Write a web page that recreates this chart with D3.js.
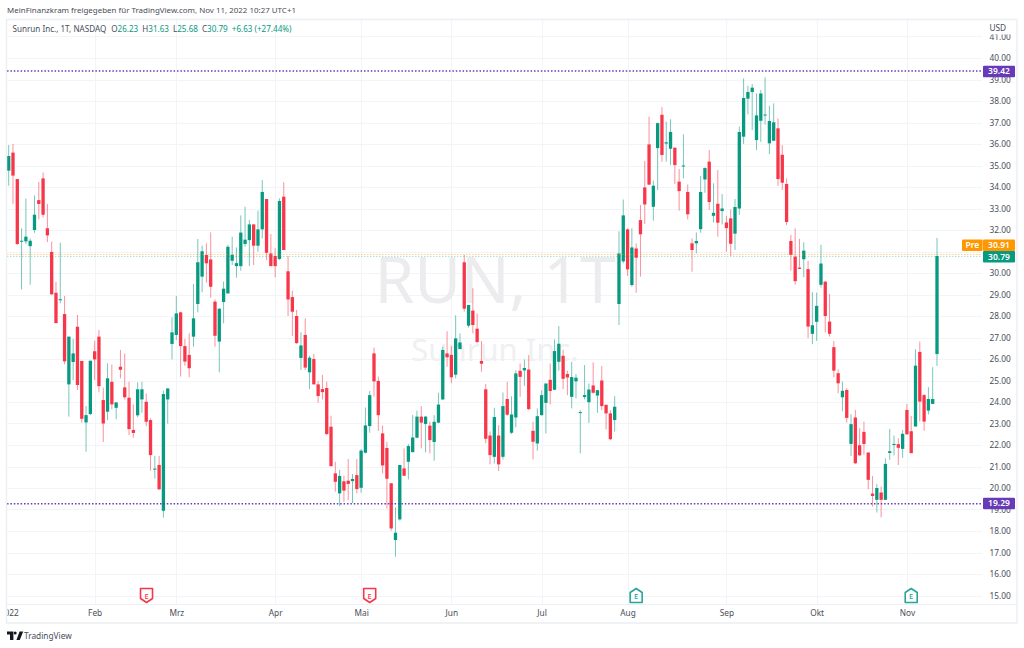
<!DOCTYPE html>
<html><head><meta charset="utf-8">
<script src="https://d3js.org/d3.v7.min.js"></script>
<style>html,body{margin:0;padding:0;background:#fff}svg{display:block}text{font-family:"Noto Sans",sans-serif}</style>
</head><body><svg id="c" width="1024" height="648"></svg>
<script>
const opens=[34.76,35.60,34.37,31.47,31.47,31.25,32.0,33.39,34.4,32.08,
30.98,29.08,28.74,28.09,24.82,25.86,27.5,25.91,23.05,23.44,
26.36,27.04,24.09,23.55,24.94,23.73,25.64,24.68,24.2,22.7,
23.38,24.12,24.01,23.16,20.87,21.07,18.94,24.12,26.7,27.12,
28.17,26.6,26.19,27.04,28.56,29.83,30.84,30.63,28.67,26.81,
28.65,29.05,30.57,30.32,30.32,31.35,31.53,32.26,31.27,32.03,
33.44,30.91,30.79,30.65,33.55,30.08,28.88,28.0,26.05,27.12,
25.38,26.0,24.82,24.6,24.65,22.85,20.68,19.75,20.31,20.34,
20.32,20.6,20.01,21.64,22.88,26.26,24.98,22.54,21.86,20.22,
17.58,18.54,20.91,21.22,21.67,22.34,23.32,22.98,22.9,22.14,
23.04,24.12,26.26,26.19,25.27,26.46,30.5,27.55,28.25,27.41,
25.91,24.59,22.44,21.45,22.44,21.45,24.14,22.57,23.28,25.45,
25.47,25.51,22.66,22.07,23.39,23.96,25.03,24.57,25.87,26.15,
25.3,24.24,24.96,23.5,24.23,23.99,24.77,24.3,25.0,23.87,
23.47,23.16,28.56,30.54,32.03,29.44,31.14,32.46,33.98,35.98,
33.08,35.81,37.36,36.02,35.78,35.83,34.25,34.96,33.77,31.38,
31.38,32.04,34.35,35.18,32.66,33.22,32.88,32.35,32.54,31.83,
33.0,36.34,38.11,38.42,36.18,37.08,37.33,36.03,36.15,36.73,
35.5,34.14,31.49,30.76,30.25,30.64,30.18,27.17,27.73,29.45,
29.6,27.74,26.55,25.34,24.22,24.56,22.05,23.28,21.99,22.61,
21.65,19.74,19.45,19.79,19.45,21.63,22.0,22.04,21.82,23.63,
22.64,22.86,26.33,24.32,23.6,23.91,26.23];
const highs=[35.95,36.0,34.37,32.08,33.47,31.61,33.61,34.23,34.68,33.21,
31.46,29.58,31.41,28.93,27.04,26.94,28.05,25.91,23.81,25.92,
26.85,27.35,24.67,25.8,25.75,23.98,26.42,26.26,24.94,23.89,
24.91,24.94,24.4,23.24,21.5,21.49,24.53,24.63,27.94,28.93,
28.2,26.93,27.19,29.49,31.58,31.27,31.38,31.89,28.77,28.36,
29.6,31.3,31.69,31.19,32.68,33.08,32.46,32.26,32.9,34.32,
33.44,31.81,31.15,33.47,34.22,30.79,29.18,28.28,27.24,27.89,
26.15,26.23,24.98,25.26,24.95,23.36,21.22,20.84,20.56,21.35,
20.65,21.35,21.8,23.74,24.51,26.53,25.18,22.9,22.15,20.22,
19.1,21.07,21.84,22.05,23.39,23.6,23.81,23.35,23.08,23.39,
24.43,26.57,27.29,26.6,28.03,27.19,30.84,28.51,29.29,28.12,
26.84,24.84,22.63,23.73,22.93,24.44,24.94,24.27,25.48,25.79,
25.98,26.18,23.08,23.7,24.55,24.86,25.79,26.91,27.53,26.44,
25.45,25.87,25.3,23.62,25.72,24.86,25.84,24.55,25.67,23.87,
23.62,24.27,31.94,33.42,32.08,32.08,31.38,33.16,35.21,37.27,
34.29,37.0,37.72,37.04,37.15,35.83,34.84,36.45,34.12,31.61,
31.89,34.51,34.91,35.72,34.17,34.79,33.67,32.66,32.96,33.44,
36.8,39.05,38.7,38.79,38.35,38.51,39.1,37.78,37.89,37.19,
35.95,34.4,31.77,32.08,31.59,31.43,30.56,29.11,29.09,31.31,
29.6,29.03,26.84,25.52,24.95,24.64,23.43,23.63,22.78,23.09,
21.65,20.56,20.18,20.07,21.38,22.75,22.44,22.31,22.7,23.91,
23.35,26.45,26.81,24.38,24.69,25.62,31.63];
const lows=[34.06,33.21,31.3,29.24,31.35,29.46,31.87,32.5,32.59,31.44,
28.97,27.66,28.59,25.75,23.32,25.02,24.56,23.04,21.69,23.39,
25.02,24.45,22.14,23.16,23.66,23.19,25.1,24.12,22.46,22.34,
23.29,23.5,22.88,20.8,20.43,19.91,18.62,23.0,25.98,26.88,
25.18,25.69,25.15,26.57,28.17,29.1,29.55,28.85,26.57,25.38,
27.66,29.05,30.37,29.78,30.11,31.22,30.32,30.37,30.99,31.61,
30.6,30.32,29.8,30.6,31.07,28.0,27.07,26.7,25.49,25.49,
24.6,24.82,23.97,24.12,22.46,20.99,19.83,19.16,19.36,19.44,
19.3,19.75,19.78,21.61,22.57,24.25,22.65,20.68,19.05,18.01,
16.81,18.48,20.57,20.4,21.64,22.31,21.84,21.66,21.61,21.27,
23.01,24.09,25.64,24.87,25.1,26.46,28.2,27.46,27.19,26.73,
25.41,22.08,21.1,21.14,20.79,21.33,23.36,22.51,22.82,24.24,
24.75,23.62,21.33,21.73,23.36,22.54,23.89,24.55,25.45,24.6,
24.32,23.7,24.17,21.61,24.12,23.03,24.4,23.5,23.62,22.72,
22.23,22.62,27.58,30.45,29.86,29.36,29.08,29.83,32.28,34.09,
32.43,33.86,35.18,35.18,35.02,34.14,32.9,34.4,32.49,30.06,
30.91,31.87,33.73,32.93,32.35,31.69,32.26,30.99,30.79,31.07,
32.7,36.0,37.38,36.65,35.72,36.1,36.9,35.53,36.15,34.06,
33.86,32.23,30.11,29.45,30.18,29.8,26.97,26.69,26.84,29.32,
27.23,27.04,25.15,24.41,23.57,23.04,21.49,21.11,21.49,21.54,
19.94,19.14,18.86,18.64,19.45,21.31,21.52,21.07,21.4,22.47,
21.62,22.86,23.09,22.66,23.42,23.91,25.68];
const closes=[35.44,34.53,31.35,31.5,31.69,31.5,32.71,33.21,32.71,31.75,
29.01,27.67,28.78,25.89,27.04,26.26,24.79,23.22,23.39,25.92,
25.98,24.74,23.0,25.1,23.89,23.98,25.5,24.22,22.74,22.56,
24.59,24.59,23.08,21.53,20.9,19.94,24.37,24.63,27.24,28.12,
26.6,25.88,25.57,27.89,30.5,31.01,30.45,29.36,27.08,28.34,
29.27,31.22,30.85,30.46,31.88,31.55,32.26,31.27,32.03,33.77,
30.94,30.32,30.32,33.35,31.07,28.77,28.2,26.74,26.63,25.6,
26.06,24.82,24.28,24.46,22.51,21.02,20.29,20.56,19.88,20.19,
20.42,19.95,21.74,22.91,24.32,24.96,23.39,21.05,20.43,18.12,
17.92,21.07,20.57,21.95,22.35,23.32,23.04,23.32,22.23,23.08,
23.88,26.42,26.08,25.15,26.96,26.77,28.34,28.51,27.58,26.79,
25.78,22.29,21.53,23.3,21.1,23.81,23.41,23.42,25.33,25.17,
25.58,23.67,22.15,23.34,24.32,24.86,24.51,26.37,26.71,25.08,
25.14,25.16,25.13,23.53,24.32,24.58,24.43,24.55,23.81,23.47,
22.27,23.78,30.91,32.68,30.17,31.19,30.71,31.8,33.19,34.11,
34.06,36.97,35.49,36.08,36.56,35.02,33.81,35.0,32.73,31.07,
31.49,33.77,34.88,33.3,32.8,32.34,33.0,32.09,31.36,33.07,
36.56,38.14,38.42,38.62,37.33,38.35,37.37,37.07,37.01,34.37,
34.2,32.37,30.84,29.62,30.19,31.04,27.51,27.57,28.47,30.44,
28.0,27.17,25.46,24.87,24.52,23.26,22.97,21.15,21.52,22.05,
20.38,19.63,20.0,19.45,21.12,21.71,22.05,21.87,22.52,22.5,
21.62,25.69,24.02,23.09,24.14,24.14,30.79];
const monthLabels=["2022","Feb","Mrz","Apr","Mai","Jun","Jul","Aug","Sep","Okt","Nov"];
const monthBars=[0,20,39,62,82,103,124,144,167,188,209];
const priceTicks=d3.range(15,42);
const axisLabelPrices=priceTicks.filter(d=>d!==31);
const hLevels=[39.42,19.29];
const hLabels=["39.42","19.29"];
const earningsBars=[32,84,146,210];
const earningsBeat=[false,false,true,true];
const legendName="Sunrun Inc., 1T, NASDAQ";
const legendPairs=[["O","26.23"],["H","31.63"],["L","25.68"],["C","30.79"]];
const legendChange="+6.63 (+27.44%)";
const UP="#089981",DOWN="#f83649",PURPLE="#673ab7",ORANGE="#ff9800",GRID="#f3f4f8",AX="#4a4d58";

const svg=d3.select("#c");
const x=d3.scaleLinear().domain([0,216]).range([8.7,937]);
const y=d3.scaleLinear().domain([15,40]).range([595.5,58]);
const P={l:7,r:982,t:20,b:604,R:1017,B:623};
const defs=svg.append("defs");
defs.append("clipPath").attr("id","pane").append("rect").attr("x",P.l).attr("y",P.t).attr("width",P.r-P.l).attr("height",P.b-P.t);
defs.append("clipPath").attr("id","pa").append("rect").attr("x",P.r).attr("y",34.5).attr("width",P.R-P.r).attr("height",P.b-34.5);
defs.append("clipPath").attr("id","ta").append("rect").attr("x",P.l+.5).attr("y",P.b).attr("width",P.R-P.l).attr("height",P.B-P.b);

// header
svg.append("text").attr("x",7).attr("y",12.8).attr("font-size",7.95).attr("fill","#4a4d58")
 .text("MeinFinanzkram freigegeben für TradingView.com, Nov 11, 2022 10:27 UTC+1");

const g=svg.append("g").attr("clip-path","url(#pane)");
// gridlines
g.selectAll(".gh").data(priceTicks).join("line").attr("x1",P.l).attr("x2",P.r)
 .attr("y1",d=>Math.round(y(d))+.5).attr("y2",d=>Math.round(y(d))+.5).attr("stroke",GRID);
g.selectAll(".gv").data(monthBars.slice(1)).join("line").attr("y1",P.t).attr("y2",P.b)
 .attr("x1",d=>Math.round(x(d))+.5).attr("x2",d=>Math.round(x(d))+.5).attr("stroke",GRID);
// watermark
g.append("text").attr("x",495).attr("y",303).attr("text-anchor","middle").attr("font-size",64).attr("fill","#ececee").text("RUN, 1T");
g.append("text").attr("x",495).attr("y",361).attr("text-anchor","middle").attr("font-size",31).attr("fill","#f0f0f2").text("Sunrun Inc.");

// candles
const idx=d3.range(opens.length);
const col=i=>closes[i]>=opens[i]?UP:DOWN;
g.selectAll(".w").data(idx).join("line").attr("x1",i=>x(i)).attr("x2",i=>x(i))
 .attr("y1",i=>y(highs[i])).attr("y2",i=>y(lows[i])).attr("stroke",col).attr("stroke-opacity",.55).attr("stroke-width",1);
g.selectAll(".b").data(idx).join("rect").attr("x",i=>x(i)-1.65).attr("width",3.3)
 .attr("y",i=>Math.min(y(opens[i]),y(closes[i])))
 .attr("height",i=>Math.max(1,Math.abs(y(opens[i])-y(closes[i])))).attr("fill",col);

// dotted levels
g.selectAll(".lv").data(hLevels).join("line").attr("x1",P.l).attr("x2",P.r).attr("y1",d=>y(d)+.5).attr("y2",d=>y(d)+.5)
 .attr("stroke",PURPLE).attr("stroke-width",1.6).attr("stroke-dasharray","1.5 1.9");
const preLevel=30.91,lastLevel=closes[closes.length-1];
g.append("line").attr("x1",P.l).attr("x2",P.r).attr("y1",Math.floor(y(preLevel))+1.5).attr("y2",Math.floor(y(preLevel))+1.5).attr("stroke",ORANGE).attr("stroke-opacity",.45).attr("stroke-dasharray","1.5 1.5");
g.append("line").attr("x1",P.l).attr("x2",P.r).attr("y1",Math.floor(y(lastLevel))+.5).attr("y2",Math.floor(y(lastLevel))+.5).attr("stroke",UP).attr("stroke-opacity",.3).attr("stroke-dasharray","1.5 1.5");

// earnings icons
earningsBars.forEach((b,k)=>{
 const cx=x(b)+ (k==0?0.3:0), c=earningsBeat[k]?"#26a69a":DOWN, t=588.5,bt=602.5,w=6;
 const pth=earningsBeat[k]
  ?`M${cx},${t} L${cx+w},${t+4} L${cx+w},${bt} L${cx-w},${bt} L${cx-w},${t+4} Z`
  :`M${cx-w},${t} L${cx+w},${t} L${cx+w},${bt-4} L${cx},${bt} L${cx-w},${bt-4} Z`;
 svg.append("path").attr("d",pth).attr("fill","#fff").attr("stroke",c).attr("stroke-width",1.6).attr("stroke-linejoin","round");
 svg.append("text").attr("x",cx).attr("y",599).attr("text-anchor","middle").attr("font-size",7.5).attr("fill",c).attr("font-weight",500).text("E");
});

// frame
const frame="#eceef3";
svg.append("path").attr("d",`M${P.l-.5},${P.t-.5}H${P.R}V${P.B}H${P.l-.5}Z`).attr("fill","none").attr("stroke",frame).attr("stroke-width",1.4);
svg.append("line").attr("x1",P.l).attr("x2",P.R).attr("y1",P.b+.5).attr("y2",P.b+.5).attr("stroke",frame);

// price axis
const pa=d3.axisRight(y).tickValues(axisLabelPrices).tickSize(0).tickPadding(0).tickFormat(d3.format(".2f"));
const gp=svg.append("g").attr("clip-path","url(#pa)").append("g").attr("transform","translate(989.5,0)").call(pa);
gp.select(".domain").remove();
gp.selectAll("text").attr("font-size",8.3).attr("fill",AX).style("font-family",'"Noto Sans",sans-serif');
svg.append("text").attr("x",989.5).attr("y",31).attr("font-size",8.3).attr("fill",AX).text("USD");

// time axis
const ta=d3.axisBottom(x).tickValues(monthBars).tickSize(0).tickPadding(0).tickFormat((d,i)=>monthLabels[i]);
const gt=svg.append("g").attr("clip-path","url(#ta)").append("g").attr("transform","translate(0,610)").call(ta);
gt.select(".domain").remove();
gt.selectAll("text").attr("font-size",8.3).attr("fill",AX).style("font-family",'"Noto Sans",sans-serif');

// price tags
function tag(x0,w,yc,fill,txt,h){
 svg.append("rect").attr("x",x0).attr("y",yc-h/2).attr("width",w).attr("height",h).attr("fill",fill).attr("rx",1);
 svg.append("text").attr("x",x0+w/2).attr("y",yc+3).attr("text-anchor","middle").attr("font-size",8.5).attr("font-weight",600).attr("fill","#fff").text(txt);
}
hLevels.forEach((d,i)=>tag(983,32,y(d)+(i==0?1:0.2),PURPLE,hLabels[i],11.6));
tag(962,20.6,245.2,ORANGE,"Pre",11.6);
tag(983,32,245.2,ORANGE,d3.format(".2f")(preLevel),11.6);
tag(983,32,256.8,UP,d3.format(".2f")(lastLevel),11.6);

// legend
const lg=svg.append("text").attr("x",12.5).attr("y",32).attr("font-size",8.1);
lg.append("tspan").attr("fill","#4a4d58").text(legendName);
legendPairs.forEach(([k,v],i)=>{
 lg.append("tspan").attr("fill","#4a4d58").attr("dx",i==0?5:4).text(k);
 lg.append("tspan").attr("fill",UP).text(v);
});
lg.append("tspan").attr("fill",UP).attr("dx",4).text(legendChange);

// logo
svg.append("path").attr("d","M7,631.5h6.4v8.5h-3.4v-5.4h-3z M16.4,640l3.2,-8.5h3.6l-3.4,8.5z").attr("fill","#131722");
svg.append("circle").attr("cx",15.2).attr("cy",633).attr("r",1.5).attr("fill","#131722");
svg.append("text").attr("x",24).attr("y",639).attr("font-size",8.3).attr("fill","#4a4d58").text("TradingView");
</script></body></html>
